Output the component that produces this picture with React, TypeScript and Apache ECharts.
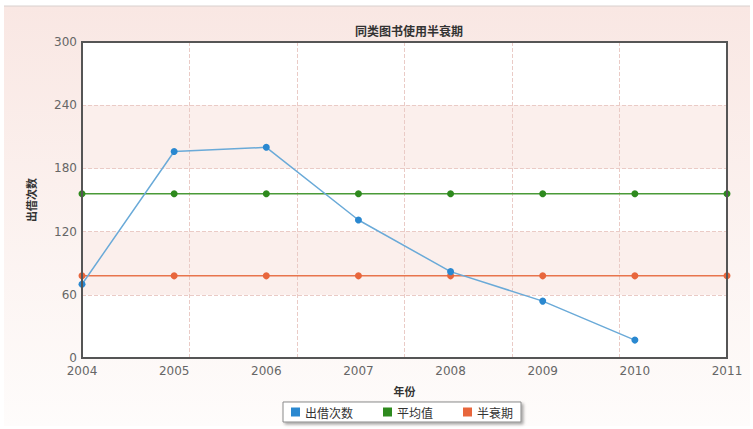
import React, { useEffect, useRef } from "react";
import * as echarts from "echarts";

const years = ["2004", "2005", "2006", "2007", "2008", "2009", "2010", "2011"];
const loans = [70, 196, 200, 131, 82, 54, 17];
const average = [156, 156, 156, 156, 156, 156, 156, 156];
const halfLife = [78, 78, 78, 78, 78, 78, 78, 78];
const yTicks = { min: 0, max: 300, interval: 60 };

const cjk = '"Noto Sans CJK SC", "DejaVu Sans", sans-serif';
const num = '"DejaVu Sans", Verdana, sans-serif';

export default function App() {
  const ref = useRef<HTMLDivElement>(null);
  useEffect(() => {
    if (!ref.current) return;
    const chart = echarts.init(ref.current, undefined, { renderer: "svg" });
    chart.setOption({
      animation: false,
      backgroundColor: "#ffffff",
      graphic: [
        {
          type: "rect",
          z: -10,
          silent: true,
          shape: { x: 4, y: 6, width: 746, height: 420 },
          style: {
            fill: new echarts.graphic.LinearGradient(0, 0, 0, 1, [
              { offset: 0, color: "#f9e7e3" },
              { offset: 1, color: "#fefcfb" },
            ]),
            stroke: null,
          },
        },
        {
          type: "line",
          z: -9,
          silent: true,
          shape: { x1: 4, y1: 6, x2: 750, y2: 6 },
          style: { stroke: "#d8d0ce", lineWidth: 1 },
        },
        {
          type: "rect",
          z: 100,
          silent: true,
          shape: { x: 82, y: 42, width: 645, height: 316 },
          style: { fill: null, stroke: "#555", lineWidth: 2 },
        },
      ],
      title: {
        text: "同类图书使用半衰期",
        left: 404,
        textAlign: "center",
        top: 19,
        textStyle: { fontFamily: cjk, fontSize: 12, fontWeight: "bold", color: "#333" },
      },
      grid: {
        left: 82,
        right: 26,
        top: 42,
        bottom: 71,
        show: false,
      },
      legend: {
        bottom: 7,
        left: 283,
        icon: "rect",
        itemWidth: 9,
        itemHeight: 9,
        itemGap: 30,
        padding: [4, 8, 4, 8],
        backgroundColor: "#ffffff",
        borderColor: "#8a8a8a",
        borderWidth: 1,
        shadowColor: "rgba(0,0,0,0.35)",
        shadowBlur: 3,
        shadowOffsetX: 2,
        shadowOffsetY: 2,
        textStyle: { fontFamily: cjk, fontSize: 12, color: "#333" },
        data: ["出借次数", "平均值", "半衰期"],
      },
      xAxis: [
        {
          type: "category",
          data: years,
          boundaryGap: false,
          name: "年份",
          nameLocation: "middle",
          nameGap: 27,
          nameTextStyle: { fontFamily: cjk, fontSize: 11, fontWeight: "bold", color: "#333" },
          axisLine: { show: false },
          axisTick: { show: false },
          axisLabel: { fontFamily: num, fontSize: 12, color: "#666", margin: 7 },
          splitLine: { show: false },
        },
        {
          type: "value",
          min: 0,
          max: 6,
          interval: 1,
          position: "bottom",
          axisLine: { show: false },
          axisTick: { show: false },
          axisLabel: { show: false },
          splitLine: { show: true, lineStyle: { color: "#eacbc6", type: "dashed", width: 1 } },
        },
      ],
      yAxis: {
        type: "value",
        min: yTicks.min,
        max: yTicks.max,
        interval: yTicks.interval,
        name: "出借次数",
        nameLocation: "middle",
        nameGap: 46,
        nameRotate: 90,
        nameTextStyle: { fontFamily: cjk, fontSize: 11, fontWeight: "bold", color: "#333" },
        axisLine: { show: false },
        axisTick: { show: false },
        axisLabel: { fontFamily: num, fontSize: 12, color: "#666", margin: 5 },
        splitLine: { show: true, lineStyle: { color: "#eacbc6", type: "dashed", width: 1 } },
        splitArea: { show: true, areaStyle: { color: ["#ffffff", "#fbefec"] } },
      },
      series: [
        {
          name: "出借次数",
          type: "line",
          data: loans,
          symbol: "circle",
          symbolSize: 7,
          itemStyle: { color: "#2a88d0" },
          lineStyle: { color: "#6aaad8", width: 1.5 },
          z: 5,
        },
        {
          name: "平均值",
          type: "line",
          data: average,
          symbol: "circle",
          symbolSize: 7,
          itemStyle: { color: "#2e8a1e" },
          lineStyle: { color: "#4a9a38", width: 1.5 },
          z: 4,
        },
        {
          name: "半衰期",
          type: "line",
          data: halfLife,
          symbol: "circle",
          symbolSize: 7,
          itemStyle: { color: "#e8663c" },
          lineStyle: { color: "#e8744c", width: 1.5 },
          z: 4,
        },
      ],
    });
    return () => chart.dispose();
  }, []);
  return (
    <div
      ref={ref}
      style={{ position: "absolute", left: 0, top: 0, width: 753, height: 429 }}
    />
  );
}
